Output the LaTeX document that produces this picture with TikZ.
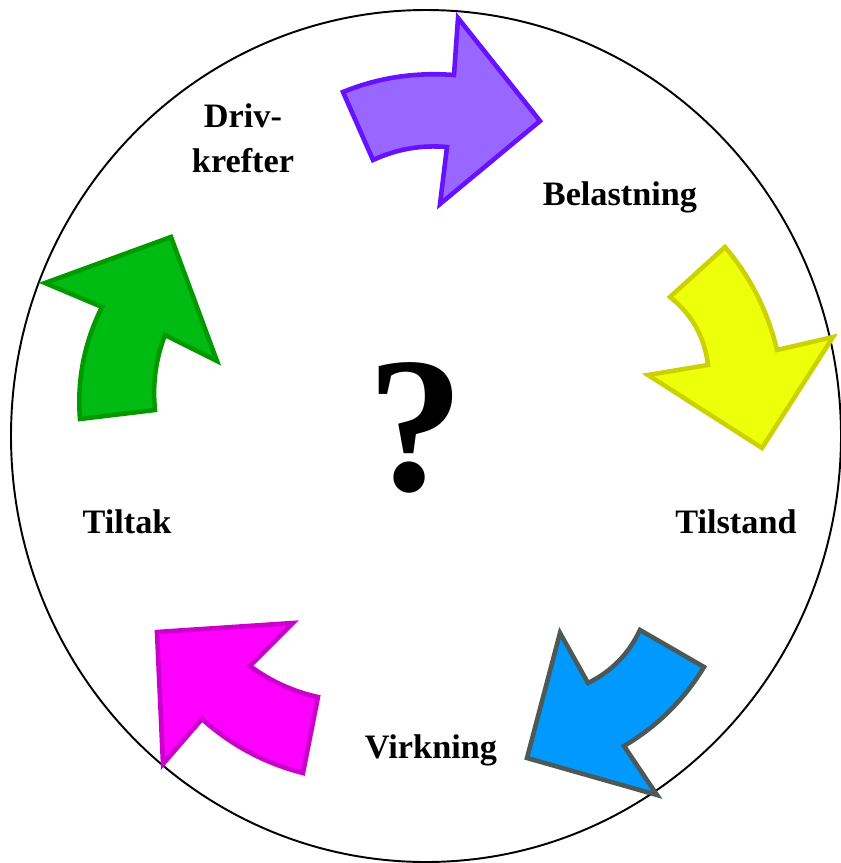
\documentclass[tikz,border=0pt]{standalone}
\usepackage{fontspec}
\setmainfont{Liberation Serif}
\usepackage{tikz}
\usetikzlibrary{positioning}

\definecolor{purplefill}{RGB}{153,102,255}
\definecolor{purpleline}{RGB}{102,17,255}
\definecolor{yellowfill}{RGB}{238,255,10}
\definecolor{yellowline}{RGB}{204,210,0}
\definecolor{bluefill}{RGB}{0,153,255}
\definecolor{blueline}{RGB}{77,89,89}
\definecolor{magentafill}{RGB}{255,0,255}
\definecolor{magentaline}{RGB}{204,0,204}
\definecolor{greenfill}{RGB}{0,187,17}
\definecolor{greenline}{RGB}{0,153,0}

\tikzset{
  bentarrow/.style={line width=2.6pt, line join=miter},
  phase/.style={font=\fontsize{19.5}{25.5}\selectfont\bfseries, inner sep=0pt}
}

\begin{document}
\begin{tikzpicture}[x=0.02cm, y=-0.02cm]
\useasboundingbox (0,0) rectangle (841,863);

% outer ring
\draw[line width=1.1pt] (426,436) ellipse [x radius=415, y radius=426];

% arrows round the ring
\draw[bentarrow, draw=purpleline, fill=purplefill]
  (343,92) .. controls (378,77.7) and (415,72) .. (454,75) -- (458,18) -- (540,121)
  -- (440,204) -- (447,147) .. controls (421.2,144.8) and (396.5,149.1) .. (373,160) -- cycle;
\draw[bentarrow, draw=yellowline, fill=yellowfill]
  (670,297) -- (725,247) .. controls (750.6,277.1) and (767.9,311.5) .. (777,350) -- (833,337)
  -- (762,448) -- (648,375) -- (708,365) .. controls (704.7,337.1) and (692,314.5) .. (670,297) -- cycle;
\draw[bentarrow, draw=blueline, fill=bluefill]
  (640,630) -- (704,667) .. controls (683.9,700) and (657.2,726.3) .. (624,746) -- (657,795)
  -- (527,758) -- (560,633) -- (588,683) .. controls (611.5,671.5) and (628.8,653.8) .. (640,630) -- cycle;
\draw[bentarrow, draw=magentaline, fill=magentafill]
  (157,632) -- (293,623) -- (250,666) .. controls (270.5,681.2) and (293.1,691.5) .. (318,697)
  -- (303,773) .. controls (264.9,763.3) and (231.3,745.3) .. (202,719) -- (163,764) -- cycle;
\draw[bentarrow, draw=greenline, fill=greenfill]
  (45,283) -- (171,237) -- (217,361) -- (165,335) .. controls (155.7,359.2) and (152.3,384.2) .. (155,410)
  -- (80,419) .. controls (76.9,379.7) and (84.3,342.3) .. (102,307) -- cycle;

% phases
\node[phase, align=center] (driv) at (243,138) {Driv-\\krefter};
\node[phase, anchor=base] (belast) at (620,205) {Belastning};
\node[phase, anchor=base] (tilstand) at (736,533) {Tilstand};
\node[phase, anchor=base] (virkning) at (431,758) {Virkning};
\node[phase, anchor=base] (tiltak) at (127,533) {Tiltak};

\node[anchor=base, inner sep=0pt, font=\fontsize{110}{110}\selectfont\bfseries] (query) at (416,490) {?};
\end{tikzpicture}
\end{document}
